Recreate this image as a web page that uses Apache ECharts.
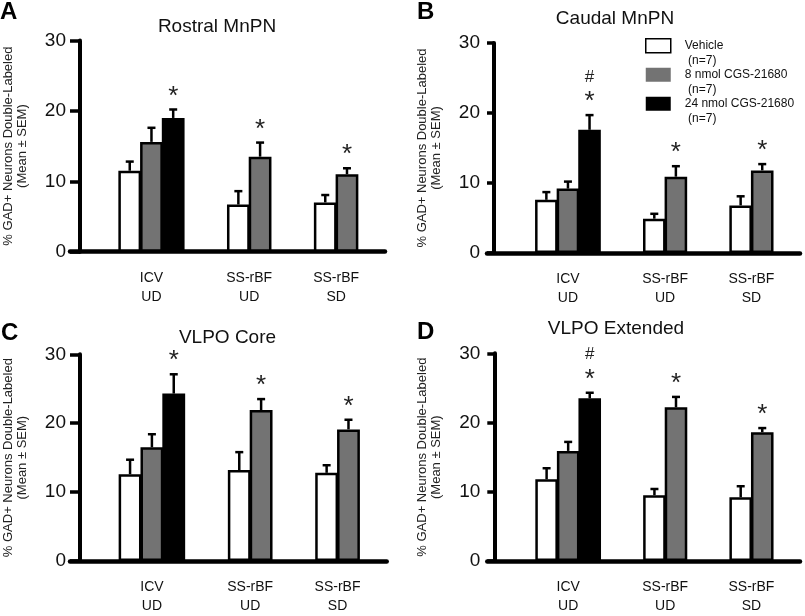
<!DOCTYPE html>
<html><head><meta charset="utf-8">
<script src="https://cdn.jsdelivr.net/npm/echarts@6/dist/echarts.min.js"></script>
<style>html,body{margin:0;padding:0;background:#fff}#c{width:805px;height:616px}</style>
</head><body><div id="c"></div>
<script>
// ---------- data ----------
const categories = ['ICV\nUD', 'SS-rBF\nUD', 'SS-rBF\nSD'];
const doseNames = ['Vehicle', '8 nmol CGS-21680', '24 nmol CGS-21680'];
const doseN = [7, 7, 7];
const yMin = 0, yMax = 30, yStep = 10;
const yAxisTitle = '% GAD+ Neurons Double-Labeled\n(Mean ± SEM)';

// A: Rostral MnPN
const rostralTitle = 'Rostral MnPN';
const rostralVehicle = [11.5, 6.7, 7.0];
const rostralVehicleSem = [1.3, 1.9, 1.05];
const rostral8 = [15.6, 13.5, 11.0];
const rostral8Sem = [2.0, 2.0, 0.85];
const rostral24 = [19.0, null, null];
const rostral24Sem = [1.2, null, null];
const rostralSig8 = ['', '*', '*'];
const rostralSig24 = ['*', '', ''];

// B: Caudal MnPN
const caudalTitle = 'Caudal MnPN';
const caudalVehicle = [7.6, 4.9, 6.8];
const caudalVehicleSem = [1.1, 0.7, 1.3];
const caudal8 = [9.2, 10.9, 11.8];
const caudal8Sem = [1.0, 1.5, 0.9];
const caudal24 = [17.6, null, null];
const caudal24Sem = [2.1, null, null];
const caudalSig8 = ['', '*', '*'];
const caudalSig24 = ['#*', '', ''];

// C: VLPO Core
const coreTitle = 'VLPO Core';
const coreVehicle = [12.6, 13.2, 12.8];
const coreVehicleSem = [2.1, 2.6, 1.1];
const core8 = [16.5, 21.9, 19.1];
const core8Sem = [1.9, 1.6, 1.4];
const core24 = [24.3, null, null];
const core24Sem = [2.8, null, null];
const coreSig8 = ['', '*', '*'];
const coreSig24 = ['*', '', ''];

// D: VLPO Extended
const extTitle = 'VLPO Extended';
const extVehicle = [11.8, 9.5, 9.2];
const extVehicleSem = [1.6, 0.9, 1.6];
const ext8 = [15.9, 22.2, 18.6];
const ext8Sem = [1.3, 1.5, 0.6];
const ext24 = [23.5, null, null];
const ext24Sem = [0.8, null, null];
const extSig8 = ['', '*', '*'];
const extSig24 = ['#*', '', ''];

// ---------- layout (not data) ----------
const slotCount = 29;                       // half-bar-width slots on the category axis
const barSlots = [[5, 7, 9], [15, 17, 19], [23, 25, 27]];
const labelSlots = [7, 16, 24];
const colors = ['#ffffff', '#737373', '#000000'];
const FONT = '"Liberation Sans", Arial, sans-serif';

const panels = [
  { letter: 'A', title: rostralTitle, means: [rostralVehicle, rostral8, rostral24], sems: [rostralVehicleSem, rostral8Sem, rostral24Sem], sigs: [null, rostralSig8, rostralSig24],
    grid: { left: 69.5, top: 40.5, width: 315.5, height: 211.2 }, yOff: 10, letterPos: [0, 12], titlePos: [217, 27] },
  { letter: 'B', title: caudalTitle, means: [caudalVehicle, caudal8, caudal24], sems: [caudalVehicleSem, caudal8Sem, caudal24Sem], sigs: [null, caudalSig8, caudalSig24],
    grid: { left: 487, top: 43, width: 313, height: 210 }, yOff: 7, letterPos: [417, 12], titlePos: [615, 19] },
  { letter: 'C', title: coreTitle, means: [coreVehicle, core8, core24], sems: [coreVehicleSem, core8Sem, core24Sem], sigs: [null, coreSig8, coreSig24],
    grid: { left: 70, top: 354.3, width: 316.7, height: 211.2 }, yOff: 10, letterPos: [1, 333], titlePos: [227.5, 338] },
  { letter: 'D', title: extTitle, means: [extVehicle, ext8, ext24], sems: [extVehicleSem, ext8Sem, ext24Sem], sigs: [null, extSig8, extSig24],
    grid: { left: 487.3, top: 353.3, width: 312.7, height: 211.2 }, yOff: 7, letterPos: [417, 332], titlePos: [616, 329] }
];

const xData = new Array(slotCount).fill('');
labelSlots.forEach((s, g) => { xData[s] = categories[g]; });

const grids = [], xAxes = [], yAxes = [], series = [], graphics = [];

panels.forEach((P, p) => {
  grids.push(Object.assign({ containLabel: false }, P.grid));
  const barPx = 2 * P.grid.width / slotCount + 1;
  xAxes.push({
    type: 'category', gridIndex: p, data: xData, boundaryGap: true,
    axisLine: { lineStyle: { color: '#000', width: 4.5 } },
    axisTick: { show: false },
    axisLabel: { interval: 0, fontSize: 14, lineHeight: 19, color: '#111', margin: 17, fontFamily: FONT }
  });
  yAxes.push({
    type: 'value', gridIndex: p, min: yMin, max: yMax, interval: yStep, offset: -P.yOff,
    axisLine: { show: true, lineStyle: { color: '#000', width: 4 } },
    axisTick: { show: true, length: P.yOff, lineStyle: { color: '#000', width: 3.5 } },
    splitLine: { show: false },
    axisLabel: { fontSize: 19, color: '#111', margin: 14, fontFamily: FONT },
    name: yAxisTitle, nameLocation: 'middle', nameRotate: 90, nameGap: 51,
    nameTextStyle: { fontSize: 13, lineHeight: 14, color: '#222', fontFamily: FONT }
  });
  const errData = [], sigData = [];
  for (let d = 0; d < 3; d++) {
    const data = new Array(slotCount).fill(null);
    P.means[d].forEach((m, g) => {
      if (m == null) return;
      const s = barSlots[g][d];
      data[s] = m;
      errData.push([s, m, P.sems[d][g]]);
      const sig = P.sigs[d] ? P.sigs[d][g] : '';
      if (sig) sigData.push([s, m + P.sems[d][g], sig]);
    });
    series.push({
      type: 'bar', name: doseNames[d], xAxisIndex: p, yAxisIndex: p, stack: 'panel' + p,
      barWidth: barPx, barCategoryGap: 0, barGap: 0, data: data, silent: true,
      itemStyle: { color: colors[d], borderColor: '#000', borderWidth: 2.5 }
    });
  }
  series.push({
    type: 'custom', xAxisIndex: p, yAxisIndex: p, data: errData, silent: true, z: 5,
    encode: { x: 0, y: 1 },
    renderItem: (params, api) => {
      const x = api.value(0), m = api.value(1), s = api.value(2);
      const a = api.coord([x, m]), b = api.coord([x, m + s]);
      return { type: 'group', children: [
        { type: 'line', shape: { x1: a[0], y1: a[1], x2: b[0], y2: b[1] }, style: { stroke: '#000', lineWidth: 2.5 } },
        { type: 'line', shape: { x1: b[0] - 4, y1: b[1], x2: b[0] + 4, y2: b[1] }, style: { stroke: '#000', lineWidth: 2.5 } }
      ] };
    }
  });
  series.push({
    type: 'custom', xAxisIndex: p, yAxisIndex: p, data: sigData, silent: true, z: 6,
    encode: { x: 0, y: 1 },
    renderItem: (params, api) => {
      const x = api.value(0), top = api.value(1);
      const mark = sigData[params.dataIndex][2];
      const b = api.coord([x, top]);
      const kids = [{ type: 'text', x: b[0], y: b[1] - 13, style: { text: '*', fill: '#222', font: '26px ' + FONT, align: 'center', verticalAlign: 'middle', textAlign: 'center', textVerticalAlign: 'middle' } }];
      if (mark.indexOf('#') >= 0) {
        kids.push({ type: 'text', x: b[0], y: b[1] - 38, style: { text: '#', fill: '#222', font: '17px ' + FONT, align: 'center', verticalAlign: 'middle', textAlign: 'center', textVerticalAlign: 'middle' } });
      }
      return { type: 'group', children: kids };
    }
  });
  graphics.push({ type: 'text', x: P.letterPos[0], y: P.letterPos[1], style: { text: P.letter, font: 'bold 24px ' + FONT, fill: '#000', textAlign: 'left', textVerticalAlign: 'middle', align: 'left', verticalAlign: 'middle' } });
  graphics.push({ type: 'text', x: P.titlePos[0], y: P.titlePos[1], style: { text: P.title, font: '19px ' + FONT, fill: '#111', textAlign: 'center', textVerticalAlign: 'middle', align: 'center', verticalAlign: 'middle' } });
});

const chart = echarts.init(document.getElementById('c'), null, { renderer: 'canvas' });
chart.setOption({
  animation: false,
  backgroundColor: '#fff',
  textStyle: { fontFamily: FONT },
  grid: grids, xAxis: xAxes, yAxis: yAxes, series: series,
  graphic: graphics,
  legend: {
    show: true, selectedMode: false, orient: 'vertical', left: 645, top: 24, padding: 0,
    icon: 'rect', itemWidth: 25, itemHeight: 14, itemGap: -14.5,
    data: [
      { name: doseNames[0], itemStyle: { color: '#fff', borderColor: '#000', borderWidth: 1.5 } },
      { name: doseNames[1], itemStyle: { color: colors[1], borderWidth: 0 } },
      { name: doseNames[2], itemStyle: { color: colors[2], borderWidth: 0 } }
    ],
    formatter: name => '\n' + name + '\n (n=' + doseN[doseNames.indexOf(name)] + ')',
    textStyle: { fontSize: 12, lineHeight: 14.5, color: '#111', padding: [0, 0, 0, 9], fontFamily: FONT }
  }
});
</script></body></html>
